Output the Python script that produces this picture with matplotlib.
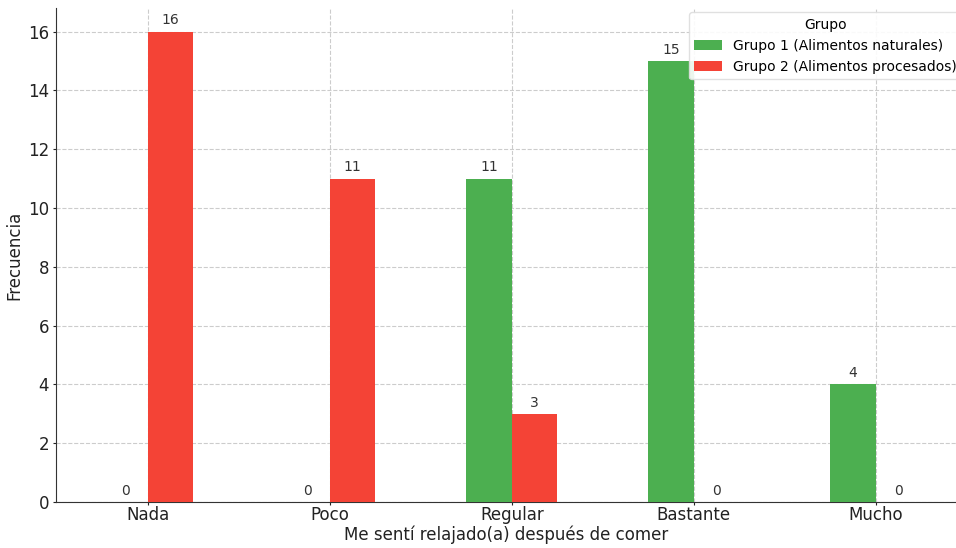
import matplotlib
matplotlib.use("Agg")
import matplotlib.pyplot as plt
import numpy as np

categories = ["Nada", "Poco", "Regular", "Bastante", "Mucho"]
grupo1 = [0, 0, 11, 15, 4]
grupo2 = [16, 11, 3, 0, 0]
labels = ["Grupo 1 (Alimentos naturales)", "Grupo 2 (Alimentos procesados)"]
colors = ["#4CAF50", "#F44336"]

plt.rcParams['font.family'] = ['DejaVu Sans']
fig = plt.figure(figsize=(9.56, 5.48), dpi=100)
ax = fig.add_axes([0.0586, 0.0839, 0.9414, 0.9015])

x = np.arange(len(categories))
w = 0.25
b1 = ax.bar(x - w/2, grupo1, w, color=colors[0], label=labels[0], zorder=3)
b2 = ax.bar(x + w/2, grupo2, w, color=colors[1], label=labels[1], zorder=3)

for bars, vals in ((b1, grupo1), (b2, grupo2)):
    for rect, v in zip(bars, vals):
        ax.annotate(f"{v}", (rect.get_x() + rect.get_width()/2, v),
                    xytext=(0, 3), textcoords="offset points",
                    ha="center", va="bottom", fontsize=10, color="#333333")

ax.set_xticks(x)
ax.set_xticklabels(categories, fontsize=12, color="#222222")
ax.tick_params(axis='y', labelsize=12, colors="#222222", length=2, pad=3)
ax.tick_params(axis='x', colors="#222222", length=2, pad=1)
ax.set_xlim(-0.505, 4.44)
ax.set_ylim(0, 16.8)
ax.set_yticks(range(0, 17, 2))
ax.set_xlabel("Me sentí relajado(a) después de comer", fontsize=12, color="#222222", labelpad=1)
ax.set_ylabel("Frecuencia", fontsize=12, color="#222222", labelpad=3)

ax.grid(True, linestyle="--", color="#cccccc", linewidth=0.8, zorder=0)
ax.set_axisbelow(True)
for s in ("top", "right"):
    ax.spines[s].set_visible(False)
for s in ("left", "bottom"):
    ax.spines[s].set_color("#333333")

leg = ax.legend(title="Grupo", loc="upper right", bbox_to_anchor=(1.015, 1.005),
                fontsize=10, title_fontsize=10, framealpha=0.9, edgecolor="#dddddd")

fig.savefig("out.png", dpi=100)
